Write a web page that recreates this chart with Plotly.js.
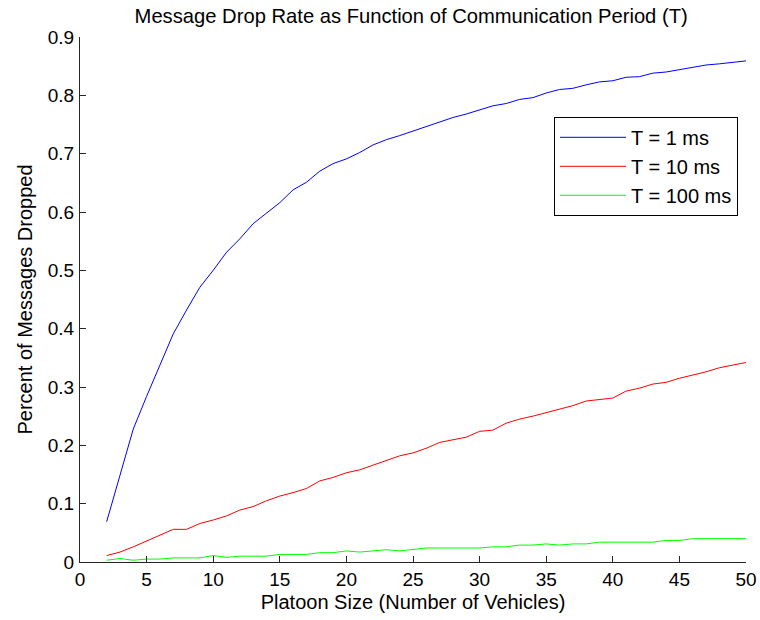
<!DOCTYPE html>
<html>
<head>
<meta charset="utf-8">
<script src="https://cdn.plot.ly/plotly-3.0.1.min.js"></script>
<style>
  html, body { margin: 0; padding: 0; background: #fff; }
  #chart { width: 760px; height: 620px; }
</style>
</head>
<body>
<div id="chart"></div>
<script>
// Platoon sizes (number of vehicles)
const platoonSize = [2,3,4,5,6,7,8,9,10,11,12,13,14,15,16,17,18,19,20,21,22,23,24,25,26,
  27,28,29,30,31,32,33,34,35,36,37,38,39,40,41,42,43,44,45,46,47,48,49,50];

// Fraction of messages dropped, T = 1 ms
const drop1ms = [0.069,0.150,0.228,0.284,0.337,0.391,0.432,0.471,0.500,0.531,0.554,0.580,
  0.598,0.616,0.638,0.651,0.670,0.683,0.691,0.702,0.715,0.724,0.731,0.739,0.747,0.755,
  0.762,0.768,0.775,0.782,0.786,0.793,0.796,0.804,0.810,0.812,0.818,0.823,0.825,0.831,
  0.832,0.838,0.840,0.844,0.849,0.852,0.854,0.857,0.859];

// Fraction of messages dropped, T = 10 ms
const drop10ms = [0.011,0.017,0.026,0.036,0.045,0.056,0.056,0.066,0.072,0.079,0.089,0.095,
  0.105,0.113,0.119,0.126,0.139,0.145,0.153,0.158,0.166,0.174,0.182,0.187,0.195,0.205,
  0.210,0.214,0.224,0.226,0.238,0.245,0.250,0.256,0.263,0.268,0.276,0.279,0.281,0.293,
  0.298,0.305,0.308,0.315,0.320,0.326,0.333,0.337,0.342];

// Fraction of messages dropped, T = 100 ms
const drop100ms = [0.003,0.006,0.003,0.005,0.005,0.007,0.007,0.007,0.011,0.008,0.010,0.010,
  0.010,0.013,0.013,0.013,0.016,0.016,0.019,0.017,0.019,0.021,0.019,0.022,0.024,0.024,
  0.024,0.024,0.024,0.026,0.026,0.029,0.029,0.031,0.029,0.031,0.031,0.034,0.034,0.034,
  0.034,0.034,0.037,0.037,0.040,0.040,0.040,0.040,0.040];

const seriesNames = ['T = 1 ms', 'T = 10 ms', 'T = 100 ms'];
const seriesColors = ['#0000ff', '#ff0000', '#00ff00'];
const seriesValues = [drop1ms, drop10ms, drop100ms];

const FONT = 'Arial, "Liberation Sans", sans-serif';

const traces = seriesValues.map((vals, i) => ({
  type: 'scatter',
  mode: 'lines',
  x: platoonSize,
  y: vals,
  name: seriesNames[i],
  line: { color: seriesColors[i], width: 1 }
}));

const axisCommon = {
  showgrid: false,
  zeroline: false,
  showline: true,
  linecolor: '#262626',
  linewidth: 1,
  ticks: 'inside',
  ticklen: 6,
  tickwidth: 1,
  tickcolor: '#262626',
  tickfont: { family: FONT, size: 19, color: '#000' },
  mirror: false
};

const layout = {
  width: 760,
  height: 620,
  paper_bgcolor: '#fff',
  plot_bgcolor: '#fff',
  margin: { l: 80, r: 14, t: 37, b: 58 },
  title: {
    text: 'Message Drop Rate as Function of Communication Period (T)',
    font: { family: FONT, size: 20.2, color: '#000' },
    x: 0.541, xanchor: 'center',
    y: 0.974, yanchor: 'middle'
  },
  xaxis: Object.assign({}, axisCommon, {
    range: [0, 50],
    tick0: 0, dtick: 5,
    title: { text: 'Platoon Size (Number of Vehicles)', font: { family: FONT, size: 20, color: '#000' }, standoff: 6 }
  }),
  yaxis: Object.assign({}, axisCommon, {
    range: [0, 0.9],
    tick0: 0, dtick: 0.1,
    ticklabelstandoff: 1,
    title: { text: 'Percent of Messages Dropped', font: { family: FONT, size: 20, color: '#000' }, standoff: 9 }
  }),
  showlegend: true,
  legend: {
    x: 0.988, xanchor: 'right',
    y: 0.848, yanchor: 'top',
    bgcolor: '#fff',
    bordercolor: '#000',
    borderwidth: 1,
    font: { family: FONT, size: 20, color: '#000' },
    itemwidth: 66
  }
};

Plotly.newPlot('chart', traces, layout, { displayModeBar: false, staticPlot: true });
</script>
</body>
</html>
